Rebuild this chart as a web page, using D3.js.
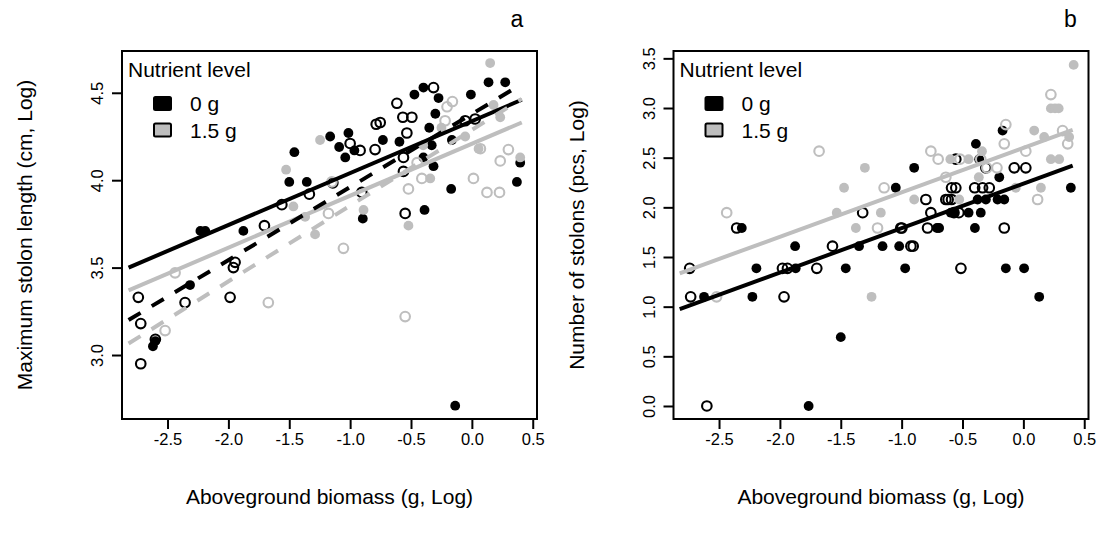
<!DOCTYPE html>
<html>
<head>
<meta charset="utf-8">
<script src="https://cdn.jsdelivr.net/npm/d3@7"></script>
<style>
  html, body { margin: 0; padding: 0; background: #fff; }
  svg text { font-family: "Liberation Sans", Arial, Helvetica, sans-serif; fill: #000; }
</style>
</head>
<body>
<svg id="chart" width="1098" height="538"></svg>
<script>
// ---------- DATA ----------
const nutrientLevels = ["0 g", "1.5 g"];
const legendTitle = "Nutrient level";
const xTicks = [-2.5, -2.0, -1.5, -1.0, -0.5, 0.0, 0.5];
const yTicksA = [3.0, 3.5, 4.0, 4.5];
const yTicksB = [0.0, 0.5, 1.0, 1.5, 2.0, 2.5, 3.0, 3.5];

// Panel a: stolon length — [biomass, length]
const aBlackFilled = [[-2.62,3.05],[-2.60,3.08],[-2.315,3.40],[-2.23,3.71],[-2.19,3.71],[-1.877,3.71],[-1.50,3.99],[-1.356,3.99],[-1.458,4.16],[-1.164,4.25],[-1.014,4.27],[-1.09,4.19],[-1.04,4.13],[-0.965,4.17],[-0.731,4.23],[-0.595,4.22],[-0.472,4.49],[-0.398,4.53],[-0.896,3.78],[-0.389,3.83],[-0.398,4.13],[0.137,4.56],[0.274,4.56],[-0.008,4.49],[-0.164,4.23],[-0.315,4.08],[-0.17,3.95],[0.37,3.99],[0.397,4.10],[-0.137,2.71],[-0.30,4.38],[-0.274,4.47],[-0.35,4.30],[-0.33,4.20]];
const aBlackOpen = [[-2.74,3.33],[-2.72,3.18],[-2.72,2.95],[-2.60,3.09],[-2.356,3.30],[-1.986,3.33],[-1.959,3.50],[-1.945,3.53],[-1.704,3.74],[-1.561,3.86],[-1.335,3.92],[-1.142,3.985],[-1.0,4.21],[-0.918,4.17],[-0.795,4.175],[-0.786,4.32],[-0.753,4.33],[-0.616,4.44],[-0.567,4.36],[-0.493,4.36],[-0.534,4.27],[-0.562,4.13],[-0.562,4.05],[-0.548,3.81],[-0.904,3.93],[-0.315,4.53],[0.027,4.35],[-0.055,4.34]];
const aGreyFilled = [[-1.247,4.23],[-1.526,4.06],[-1.466,3.85],[-1.37,3.79],[-1.288,3.69],[-0.89,3.83],[-0.521,3.74],[0.15,4.67],[0.178,4.43],[0.233,4.36],[0.397,4.13],[-0.055,4.25],[-0.342,4.01],[0.055,4.18],[-0.40,4.20],[-0.25,4.30]];
const aGreyOpen = [[-2.438,3.47],[-2.52,3.14],[-1.672,3.30],[-1.178,3.81],[-1.15,3.99],[-0.521,3.95],[-0.411,4.01],[-1.055,3.61],[-0.548,3.22],[0.013,4.01],[0.124,3.93],[0.227,3.93],[0.233,4.11],[0.30,4.175],[0.07,4.18],[-0.204,4.42],[-0.22,4.34],[-0.16,4.45],[-0.45,4.10]];
// fitted lines: [x0, y0, x1, y1]
const aLineBlackSolid = [-2.82, 3.50, 0.41, 4.46];
const aLineGreySolid  = [-2.82, 3.37, 0.41, 4.33];
const aLineBlackDash  = [-2.82, 3.20, 0.41, 4.55];
const aLineGreyDash   = [-2.82, 3.066, 0.41, 4.465];

// Panel b: number of stolons — [biomass, count (log)]
const bBlackFilled = [[-1.764,0],[-1.5,0.693],[-2.623,1.099],[-2.226,1.099],[-2.193,1.386],[-1.87,1.386],[-1.875,1.609],[-1.459,1.386],[-1.35,1.609],[-2.313,1.792],[-1.157,1.609],[-1.02,1.609],[-0.897,2.398],[-1.048,2.197],[-0.71,1.792],[-0.398,1.792],[-0.39,2.639],[-0.568,1.946],[-0.596,1.946],[-0.376,2.079],[-0.308,2.079],[-0.212,2.079],[-0.971,1.386],[-0.692,1.792],[-0.144,1.386],[0.006,1.386],[0.13,1.099],[-0.171,2.773],[0.39,2.197],[-0.157,2.079],[-0.198,2.303],[-0.363,2.485],[-0.35,1.946],[-0.45,1.946]];
const bBlackOpen = [[-2.6,0],[-2.733,1.099],[-2.741,1.386],[-2.355,1.792],[-1.966,1.099],[-1.979,1.386],[-1.938,1.386],[-1.697,1.386],[-1.568,1.609],[-0.924,1.609],[-0.905,1.609],[-1.007,1.792],[-0.787,1.792],[-0.76,1.946],[-0.618,2.079],[-0.59,2.079],[-0.555,2.197],[-0.59,2.197],[-0.57,1.946],[-0.53,1.946],[-0.335,2.197],[-0.308,2.398],[-0.28,2.197],[-0.998,1.792],[-0.513,1.386],[-0.157,1.792],[-0.075,2.398],[0.02,2.398],[-0.801,2.079],[-0.637,2.079],[-1.32,1.946],[-0.40,2.197],[-0.555,2.485]];
const bGreyFilled = [[-1.376,1.792],[-1.247,1.099],[-1.302,2.398],[-1.473,2.197],[-1.533,1.946],[-1.171,1.946],[-0.897,2.079],[-0.527,2.079],[-0.366,2.303],[-0.34,2.565],[0.089,2.773],[0.171,2.708],[0.226,2.996],[0.26,2.996],[0.29,2.996],[0.226,2.485],[0.294,2.485],[0.376,2.708],[0.413,3.434],[0.144,2.197],[-0.062,2.197],[-0.60,2.485],[-0.45,2.485]];
const bGreyOpen = [[-1.678,2.565],[-2.437,1.946],[-2.52,1.099],[-1.198,1.792],[-1.144,2.197],[-0.76,2.565],[-0.637,2.303],[-0.157,2.639],[-0.144,2.833],[0.226,3.135],[0.322,2.773],[0.364,2.639],[0.117,2.079],[0.02,2.565],[-0.217,2.398],[-0.35,2.485],[-0.52,2.485],[-0.70,2.485],[-0.30,2.398]];
const bLineBlackSolid = [-2.823, 0.974, 0.405, 2.42];
const bLineGreySolid  = [-2.823, 1.336, 0.405, 2.78];

// ---------- DRAW ----------
const BLACK = "#000000", GREY = "#bebebe";
const svg = d3.select("#chart");
const FONT_AXIS = 16.5, FONT_LAB = 21;

function drawPanel(cfg) {
  const g = svg.append("g");
  const x = d3.scaleLinear().domain([-2.874, 0.535]).range([cfg.left, cfg.left + 415]);
  const y = d3.scaleLinear().domain(cfg.yDomain).range([419, 51]);

  // points
  const groups = [
    {data: cfg.blackFilled, col: BLACK, filled: true},
    {data: cfg.blackOpen, col: BLACK, filled: false},
    {data: cfg.greyFilled, col: GREY, filled: true},
    {data: cfg.greyOpen, col: GREY, filled: false}
  ];
  groups.forEach(gr => {
    g.append("g").selectAll("circle").data(gr.data).join("circle")
      .attr("cx", d => x(d[0])).attr("cy", d => y(d[1]))
      .attr("r", gr.filled ? 4.9 : 4.8)
      .attr("fill", gr.filled ? gr.col : "none")
      .attr("stroke", gr.filled ? "none" : gr.col)
      .attr("stroke-width", gr.filled ? 0 : 2.1);
  });

  // lines
  cfg.lines.forEach(l => {
    g.append("line")
      .attr("x1", x(l.v[0])).attr("y1", y(l.v[1]))
      .attr("x2", x(l.v[2])).attr("y2", y(l.v[3]))
      .attr("stroke", l.col).attr("stroke-width", 4)
      .attr("stroke-dasharray", l.dash ? "14,13" : null);
  });

  // box
  g.append("rect").attr("x", cfg.left).attr("y", 51).attr("width", 415).attr("height", 368)
    .attr("fill", "none").attr("stroke", "#000").attr("stroke-width", 2);

  // x axis
  const xa = g.append("g").attr("transform", "translate(0,419)")
    .call(d3.axisBottom(x).tickValues(xTicks).tickSize(10).tickSizeOuter(0).tickPadding(4)
      .tickFormat(d3.format(".1f")));
  xa.select(".domain").remove();
  xa.selectAll(".tick line").attr("stroke-width", 2);
  xa.selectAll(".tick text").attr("font-size", FONT_AXIS).attr("font-family", null)
    .text(d => d3.format(".1f")(d).replace("−", "-"));

  // y axis
  const ya = g.append("g").attr("transform", `translate(${cfg.left},0)`)
    .call(d3.axisLeft(y).tickValues(cfg.yTicks).tickSize(10).tickSizeOuter(0)
      .tickFormat(d3.format(".1f")));
  ya.select(".domain").remove();
  ya.selectAll(".tick line").attr("stroke-width", 2);
  ya.selectAll(".tick text")
    .attr("font-size", FONT_AXIS).attr("font-family", null)
    .attr("x", null).attr("dy", null)
    .attr("text-anchor", "middle")
    .attr("transform", "translate(-19,0) rotate(-90)");

  // axis titles
  g.append("text").attr("x", cfg.left + 207.5).attr("y", 504)
    .attr("text-anchor", "middle").attr("font-size", FONT_LAB)
    .text("Aboveground biomass (g, Log)");
  g.append("text")
    .attr("transform", `translate(${cfg.left - 90},235) rotate(-90)`)
    .attr("text-anchor", "middle").attr("font-size", FONT_LAB)
    .text(cfg.yTitle);

  // panel label
  g.append("text").attr("x", cfg.left + cfg.labelDx).attr("y", 27)
    .attr("text-anchor", "middle").attr("font-size", 23).text(cfg.label);

  // legend
  const lg = g.append("g").attr("transform", `translate(${cfg.left},0)`);
  lg.append("text").attr("x", 6).attr("y", 77).attr("font-size", FONT_LAB).text(legendTitle);
  const legCols = [BLACK, GREY];
  nutrientLevels.forEach((lab, i) => {
    lg.append("rect").attr("x", 32).attr("y", 97 + i * 26.5).attr("width", 17).attr("height", 13)
      .attr("rx", 1.5).attr("fill", legCols[i]).attr("stroke", "#000").attr("stroke-width", 2);
    lg.append("text").attr("x", 68).attr("y", 111 + i * 26.5).attr("font-size", FONT_LAB).text(lab);
  });
}

drawPanel({
  left: 122, yDomain: [2.634, 4.739], yTicks: yTicksA,
  blackFilled: aBlackFilled, blackOpen: aBlackOpen, greyFilled: aGreyFilled, greyOpen: aGreyOpen,
  lines: [
    {v: aLineBlackSolid, col: BLACK, dash: false},
    {v: aLineGreySolid, col: GREY, dash: false},
    {v: aLineBlackDash, col: BLACK, dash: true},
    {v: aLineGreyDash, col: GREY, dash: true}
  ],
  yTitle: "Maximum stolon length (cm, Log)", label: "a", labelDx: 395
});

drawPanel({
  left: 673.5, yDomain: [-0.131, 3.574], yTicks: yTicksB,
  blackFilled: bBlackFilled, blackOpen: bBlackOpen, greyFilled: bGreyFilled, greyOpen: bGreyOpen,
  lines: [
    {v: bLineBlackSolid, col: BLACK, dash: false},
    {v: bLineGreySolid, col: GREY, dash: false}
  ],
  yTitle: "Number of stolons (pcs, Log)", label: "b", labelDx: 397
});
</script>
</body>
</html>
